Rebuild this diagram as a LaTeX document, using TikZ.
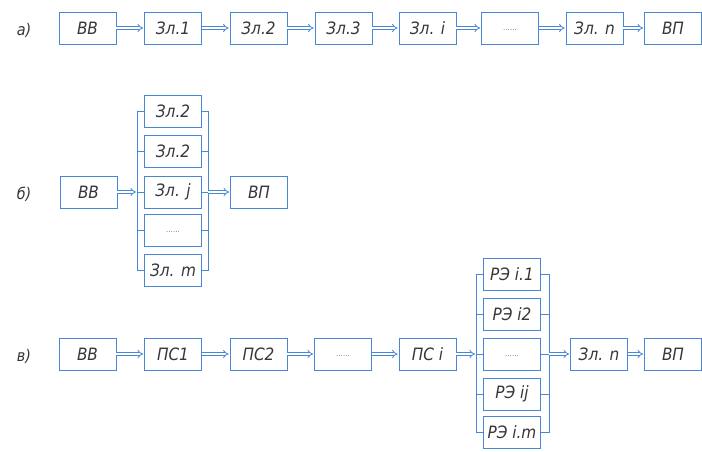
\documentclass[tikz,border=0pt]{standalone}
\usepackage{fontspec}
\setmainfont{DejaVu Sans Condensed}
\usetikzlibrary{arrows.meta}
\definecolor{boxblue}{RGB}{74,134,214}
\definecolor{txtgray}{RGB}{55,55,55}
\tikzset{
  blk/.style={draw=boxblue, line width=0.8pt, minimum width=57pt, minimum height=32pt,
    inner sep=0pt, text=txtgray, font=\fontsize{17}{17}\selectfont\itshape},
  dots/.style={blk, font=\fontsize{8}{8}\selectfont, text=gray},
  bus/.style={draw=boxblue, line width=0.8pt},
  arr/.style={draw=boxblue, line width=0.8pt, double=white, double distance=2pt,
    -{Implies[length=5pt]}, shorten >=1pt},
  lbl/.style={text=txtgray, font=\fontsize{16}{16}\selectfont\itshape}
}
\begin{document}
\begin{tikzpicture}[x=1pt,y=-1pt]
\useasboundingbox (0,0) rectangle (702,451);
% row a
\node[lbl] (la) at (24,30) {а)};
\node[blk] (a1) at (87.5,28) {ВВ};
\node[blk] (a2) at (173,28) {Зл.1};
\node[blk] (a3) at (258.5,28) {Зл.2};
\node[blk] (a4) at (343.5,28) {Зл.3};
\node[blk] (a5) at (427.5,28) {Зл. i};
\node[dots] (a6) at (510,28) {\raisebox{-4pt}{......}};
\node[blk] (a7) at (594.5,28) {Зл. n};
\node[blk] (a8) at (673,28) {ВП};
\foreach \i/\j in {a1/a2,a2/a3,a3/a4,a4/a5,a5/a6,a6/a7,a7/a8}
  \draw[arr] (\i) -- (\j);
% row b
\node[lbl] (lb) at (24,194) {б)};
\node[blk] (b0) at (88.5,192) {ВВ};
\node[blk] (b1) at (173,111) {Зл.2};
\node[blk] (b2) at (173,151) {Зл.2};
\node[blk] (b3) at (173,192) {Зл. j};
\node[dots] (b4) at (173,230.5) {\raisebox{-4pt}{......}};
\node[blk] (b5) at (173,270) {Зл. m};
\node[blk] (b6) at (259,192) {ВП};
\coordinate (bL) at (137,192);
\coordinate (bR) at (208,192);
\draw[bus] (b1.west) -- (b1.west -| bL) -- (b5.west -| bL) -- (b5.west);
\draw[bus] (b1.east) -- (b1.east -| bR) -- (b5.east -| bR) -- (b5.east);
\foreach \k in {b2,b3,b4}{
  \draw[bus] (\k.west) -- (\k.west -| bL);
  \draw[bus] (\k.east) -- (\k.east -| bR);
}
\draw[arr] (b0) -- (bL);
\draw[arr] (bR) -- (b6);
% row c
\node[lbl] (lc) at (24,356) {в)};
\node[blk] (c1) at (87.5,354) {ВВ};
\node[blk] (c2) at (173,354) {ПС1};
\node[blk] (c3) at (258.5,354) {ПС2};
\node[dots] (c4) at (343,354) {\raisebox{-4pt}{......}};
\node[blk] (c5) at (427.5,354) {ПС i};
\node[blk] (r1) at (512,274) {РЭ i.1};
\node[blk] (r2) at (512,314) {РЭ i2};
\node[dots] (r3) at (512,354) {\raisebox{-4pt}{......}};
\node[blk] (r4) at (512,394) {РЭ ij};
\node[blk] (r5) at (512,432) {РЭ i.m};
\node[blk] (c6) at (599,354) {Зл. n};
\node[blk] (c7) at (673,354) {ВП};
\coordinate (cL) at (476,354);
\coordinate (cR) at (549,354);
\draw[bus] (r1.west) -- (r1.west -| cL) -- (r5.west -| cL) -- (r5.west);
\draw[bus] (r1.east) -- (r1.east -| cR) -- (r5.east -| cR) -- (r5.east);
\foreach \k in {r2,r3,r4}{
  \draw[bus] (\k.west) -- (\k.west -| cL);
  \draw[bus] (\k.east) -- (\k.east -| cR);
}
\foreach \i/\j in {c1/c2,c2/c3,c3/c4,c4/c5}
  \draw[arr] (\i) -- (\j);
\draw[arr] (c5) -- (cL);
\draw[arr] (cR) -- (c6);
\draw[arr] (c6) -- (c7);
\end{tikzpicture}
\end{document}
